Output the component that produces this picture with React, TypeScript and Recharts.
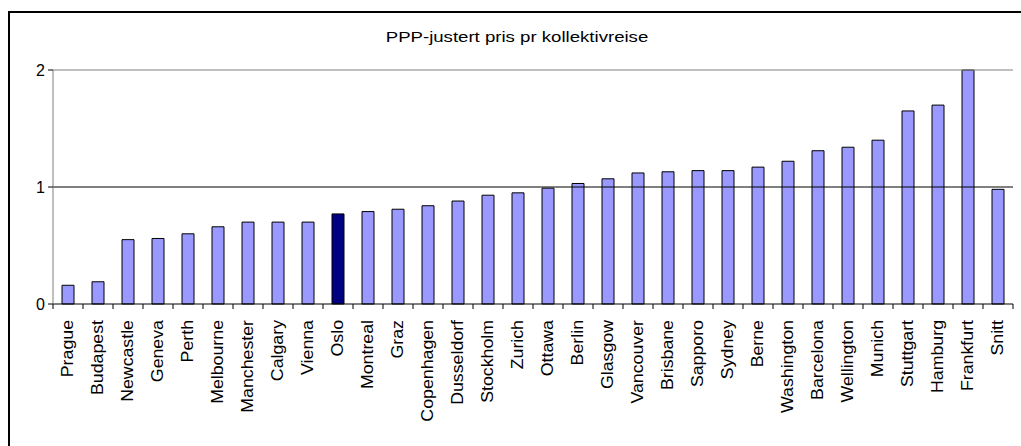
import { BarChart, Bar, Cell, XAxis, YAxis, ReferenceLine } from 'recharts';

const cities = [
  'Prague', 'Budapest', 'Newcastle', 'Geneva', 'Perth', 'Melbourne', 'Manchester', 'Calgary',
  'Vienna', 'Oslo', 'Montreal', 'Graz', 'Copenhagen', 'Dusseldorf', 'Stockholm', 'Zurich',
  'Ottawa', 'Berlin', 'Glasgow', 'Vancouver', 'Brisbane', 'Sapporo', 'Sydney', 'Berne',
  'Washington', 'Barcelona', 'Wellington', 'Munich', 'Stuttgart', 'Hamburg', 'Frankfurt', 'Snitt',
];

const prices = [
  0.16, 0.19, 0.55, 0.56, 0.6, 0.66, 0.7, 0.7,
  0.7, 0.77, 0.79, 0.81, 0.84, 0.88, 0.93, 0.95,
  0.99, 1.03, 1.07, 1.12, 1.13, 1.14, 1.14, 1.17,
  1.22, 1.31, 1.34, 1.4, 1.65, 1.7, 2.0, 0.98,
];

const yTicks = [0, 1, 2];
const highlight = 'Oslo';

const data = cities.map((name, i) => ({ name, value: prices[i] }));

const FONT = '"Liberation Sans", Arial, sans-serif';

// ticks sit between categories, like in Excel
function CityTick(props: any) {
  const { x, y, payload, index } = props;
  const half = 15;
  return (
    <g>
      <line x1={x - half} x2={x - half} y1={y} y2={y + 5} stroke="#000" />
      {index === cities.length - 1 && (
        <line x1={x + half} x2={x + half} y1={y} y2={y + 5} stroke="#000" />
      )}
      <text
        transform={`translate(${x + 5},${y + 16}) rotate(-90) scale(1.11,1)`}
        textAnchor="end"
        fontSize={16}
        fontFamily={FONT}
        fill="#000"
      >
        {payload.value}
      </text>
    </g>
  );
}

export default function App() {
  return (
    <div style={{ position: 'fixed', left: 0, top: 0, width: 1021, height: 446, overflow: 'hidden', background: '#fff' }}>
      <div
        style={{
          position: 'absolute',
          left: 8,
          top: 11,
          width: 1040,
          height: 470,
          border: '2px solid #000',
        }}
      />
      <div
        style={{
          position: 'absolute',
          left: 517,
          top: 28,
          transform: 'translateX(-50%) scaleX(1.2)',
          fontFamily: FONT,
          fontSize: 15.5,
          whiteSpace: 'nowrap',
          color: '#000',
        }}
      >
        PPP-justert pris pr kollektivreise
      </div>
      <div style={{ position: 'absolute', left: 0, top: 0 }}>
        <BarChart
          width={1021}
          height={446}
          data={data}
          margin={{ top: 70, right: 8, left: 0, bottom: 0 }}
          barSize={12}
        >
          <XAxis
            dataKey="name"
            interval={0}
            height={142}
            tick={<CityTick />}
            tickLine={false}
            tickSize={0}
            tickMargin={0}
            axisLine={{ stroke: '#000' }}
          />
          <YAxis
            domain={[0, 2]}
            ticks={yTicks}
            width={53}
            axisLine={{ stroke: '#808080' }}
            tickLine={{ stroke: '#000' }}
            tickSize={5}
            tickMargin={3}
            tick={{ fill: '#000', fontSize: 16, fontFamily: FONT }}
          />
          <YAxis
            yAxisId="right"
            orientation="right"
            width={0}
            domain={[0, 2]}
            tick={false}
            tickLine={false}
            axisLine={{ stroke: '#808080' }}
          />
          <ReferenceLine y={1} stroke="#000" />
          <ReferenceLine y={2} stroke="#808080" />
          <Bar dataKey="value" stroke="#000" strokeWidth={1} isAnimationActive={false}>
            {data.map((d) => (
              <Cell key={d.name} fill={d.name === highlight ? '#000080' : '#9999FF'} />
            ))}
          </Bar>
        </BarChart>
      </div>
    </div>
  );
}
